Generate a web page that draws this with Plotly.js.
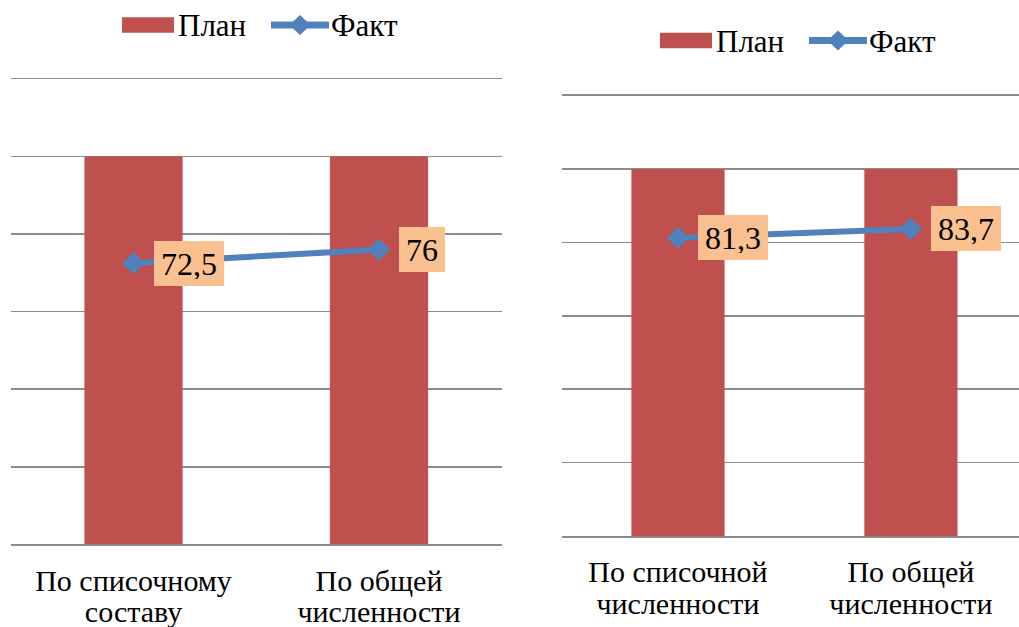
<!DOCTYPE html>
<html>
<head>
<meta charset="utf-8">
<script src="https://cdn.plot.ly/plotly-3.0.1.min.js"></script>
<style>
  html, body { margin: 0; padding: 0; background: #fff; }
</style>
</head>
<body>
<div id="chart" style="width:1019px;height:627px"></div>
<script>
// ---- data ----
const seriesNames = ['План', 'Факт'];
const leftCategories = ['По списочному составу', 'По общей численности'];
const leftPlan = [100, 100];
const leftFact = [72.5, 76];
const rightCategories = ['По списочной численности', 'По общей численности'];
const rightPlan = [100, 100];
const rightFact = [81.3, 83.7];
const yTicks = [0, 20, 40, 60, 80, 100, 120];

// ---- styling ----
const W = 1019, H = 627;
const FONT = 'Times New Roman';
const RED = '#C0504D', BLUE = '#4F81BD', LABELBG = '#FAC090', GRID = '#8c8c8c';
const px = x => x / W;
const py = y => 1 - y / H;

const fmt = v => String(v).replace('.', ',');
const wrap = s => {
  const i = s.lastIndexOf(' ');
  return '<span style="font-size:30px">' + s.slice(0, i) + '</span><br><span style="font-size:30px">' + s.slice(i + 1) + '</span>';
};

const traces = [
  { type: 'bar', x: leftCategories, y: leftPlan, name: seriesNames[0], xaxis: 'x', yaxis: 'y',
    marker: { color: RED }, showlegend: false, hoverinfo: 'skip' },
  { type: 'scatter', mode: 'lines+markers', x: leftCategories, y: leftFact, name: seriesNames[1], xaxis: 'x', yaxis: 'y',
    line: { color: BLUE, width: 6 }, marker: { symbol: 'diamond', size: 17, color: BLUE }, showlegend: false, hoverinfo: 'skip' },
  { type: 'bar', x: rightCategories, y: rightPlan, name: seriesNames[0], xaxis: 'x2', yaxis: 'y2',
    marker: { color: RED }, showlegend: false, hoverinfo: 'skip' },
  { type: 'scatter', mode: 'lines+markers', x: rightCategories, y: rightFact, name: seriesNames[1], xaxis: 'x2', yaxis: 'y2',
    line: { color: BLUE, width: 6 }, marker: { symbol: 'diamond', size: 17, color: BLUE }, showlegend: false, hoverinfo: 'skip' }
];

function xAxis(domain, range, cats, anchor) {
  return {
    domain: domain, range: range, type: 'category', anchor: anchor,
    tickmode: 'array', tickvals: cats, ticktext: cats.map(wrap),
    tickfont: { family: FONT, size: 24, color: '#000' },
    ticklabelstandoff: 16,
    showgrid: false, zeroline: false, showline: true, mirror: true, linecolor: GRID, linewidth: 1.5,
    ticks: '', fixedrange: true
  };
}
function yAxis(domain, anchor) {
  return {
    domain: domain, range: [0, 120], tickmode: 'array', tickvals: yTicks,
    showticklabels: false, showgrid: true, gridcolor: GRID, gridwidth: 1.5,
    zeroline: false, showline: false, ticks: '', anchor: anchor, fixedrange: true
  };
}

const annotations = [];
function dataLabels(cats, vals, xref, yref) {
  cats.forEach((c, i) => {
    annotations.push({
      xref: xref, yref: yref, x: c, y: vals[i], text: fmt(vals[i]), showarrow: false,
      xanchor: 'left', yanchor: 'middle', xshift: 20,
      bgcolor: LABELBG, borderwidth: 0, borderpad: 7, height: 31,
      font: { family: FONT, size: 32, color: '#000' }
    });
  });
}
dataLabels(leftCategories, leftFact, 'x', 'y');
dataLabels(rightCategories, rightFact, 'x2', 'y2');

// ---- custom legends (Excel-style swatches) ----
const shapes = [];
function legend(rect, planX, line, diamondX, factX, cy) {
  shapes.push({ type: 'rect', xref: 'paper', yref: 'paper', x0: px(rect[0]), x1: px(rect[1]), y0: py(cy - 7.7), y1: py(cy + 7.7),
    fillcolor: RED, line: { width: 0 } });
  shapes.push({ type: 'line', xref: 'paper', yref: 'paper', x0: px(line[0]), x1: px(line[1]), y0: py(cy), y1: py(cy),
    line: { color: BLUE, width: 7 } });
  const d = 'M' + px(diamondX - 10.5) + ',' + py(cy) + ' L' + px(diamondX) + ',' + py(cy - 10) +
            ' L' + px(diamondX + 10.5) + ',' + py(cy) + ' L' + px(diamondX) + ',' + py(cy + 10) + ' Z';
  shapes.push({ type: 'path', xref: 'paper', yref: 'paper', path: d, fillcolor: BLUE, line: { width: 0 } });
  [[planX, seriesNames[0]], [factX, seriesNames[1]]].forEach(([x, t]) => {
    annotations.push({ xref: 'paper', yref: 'paper', x: px(x), y: py(cy + 1), text: t, showarrow: false,
      xanchor: 'left', yanchor: 'middle', borderpad: 0, borderwidth: 0,
      font: { family: FONT, size: 31, color: '#000' } });
  });
}
legend([122, 174], 178, [271, 329], 300, 331, 25);
legend([660, 712], 716, [809, 867], 838, 869, 40.5);

const layout = {
  width: W, height: H,
  margin: { l: 0, r: 0, t: 0, b: 0, pad: 0 },
  paper_bgcolor: '#fff', plot_bgcolor: 'rgba(0,0,0,0)',
  font: { family: FONT, color: '#000' },
  showlegend: false, bargap: 0.6, hovermode: false,
  xaxis: xAxis([px(10.75), px(501.75)], [-0.5, 1.5], leftCategories, 'y'),
  yaxis: yAxis([1 - 544.3 / H, 1 - 79 / H], 'x'),
  xaxis2: xAxis([px(561.5), 1], [-0.5, 1.464], rightCategories, 'y2'),
  yaxis2: yAxis([1 - 536 / H, 1 - 95.7 / H], 'x2'),
  annotations: annotations, shapes: shapes
};

Plotly.newPlot('chart', traces, layout, { displayModeBar: false, staticPlot: true });
</script>
</body>
</html>
